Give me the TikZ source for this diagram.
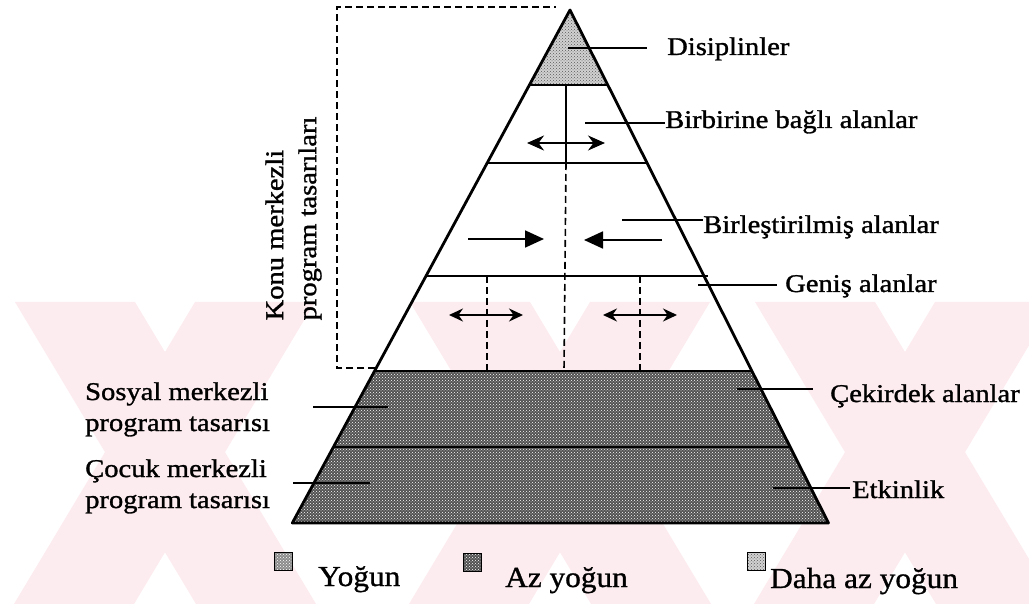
\documentclass[tikz,border=0pt]{standalone}
\usepackage{fontspec}
\setmainfont{Liberation Serif}[FakeStretch=1.12,FakeBold=1.2]
\newfontfamily\legfont{Liberation Serif}[FakeStretch=1.08,FakeBold=1.0]
\usetikzlibrary{arrows.meta,patterns,calc}
\definecolor{wmpink}{RGB}{253,236,239}
\begin{document}
\begin{tikzpicture}[x=1pt,y=-1pt,
  edge/.style={line width=2.8pt, line join=round},
  tier/.style={line width=2pt},
  dashln/.style={line width=1.6pt, dash pattern=on 7pt off 4pt},
  leader/.style={line width=1.6pt},
  lbl/.style={inner sep=0pt, font=\fontsize{25.5}{30}\selectfont},
  leg/.style={inner sep=0pt, font=\legfont\fontsize{29}{34}\selectfont},
  darkfill/.style={preaction={fill=black!68}, pattern=crosshatch dots, pattern color=white},
  midfill/.style={preaction={fill=black!45}, pattern=crosshatch dots, pattern color=white},
  lightfill/.style={preaction={fill=black!18}, pattern=crosshatch dots, pattern color=black!65},
  legsq/.style={draw=black, line width=1pt, minimum size=18pt, inner sep=0pt},
  bigtip/.style={line width=1.8pt, -{Triangle[length=19pt,width=17pt]}},
  dbl/.style={line width=1.8pt, {Stealth[length=17pt,width=15pt]}-{Stealth[length=17pt,width=15pt]}},
  dbls/.style={line width=1.6pt, {Stealth[length=14pt,width=13pt]}-{Stealth[length=14pt,width=13pt]}}
]
\useasboundingbox (0,0) rectangle (1029,604);
\fill[white] (0,0) rectangle (1029,604);
% watermark
\begin{scope}
\clip (0,302) rectangle (1029,604);
\foreach \cx in {165,560,905} {
  \fill[wmpink] (\cx-150,302) -- (\cx-30,302) -- (\cx+151,604) -- (\cx+31,604) -- cycle;
  \fill[wmpink] (\cx+30,302) -- (\cx+150,302) -- (\cx-31,604) -- (\cx-151,604) -- cycle;
}
\end{scope}
% pyramid coordinates
\coordinate (apex) at (570,10);
\coordinate (L1) at (529.4,85);  \coordinate (R1) at (607.8,85);
\coordinate (L2) at (487.2,163); \coordinate (R2) at (647.1,163);
\coordinate (L3) at (426,276);   \coordinate (R3) at (708,276);
\coordinate (L4) at (374.6,371); \coordinate (R4) at (751.9,371);
\coordinate (L5) at (333.4,447); \coordinate (R5) at (790.2,447);
\coordinate (L6) at (292.3,523); \coordinate (R6) at (828.5,523);
% fills
\path[lightfill] (apex) -- (R1) -- (L1) -- cycle;
\path[darkfill] (L4) -- (R4) -- (R6) -- (L6) -- cycle;
% tiers
\draw[tier] (L1) -- (R1);
\draw[tier] (L2) -- (R2);
\draw[tier] (L3) -- (R3);
\draw[tier] (L4) -- (R4);
\draw[tier, line width=2.4pt] (L5) -- (R5);
\draw[edge] (L6) -- (apex) -- (R6) -- cycle;
% verticals
\coordinate (v0) at (566,85); \coordinate (v1) at (566,163); \coordinate (v2) at (564,371);
\coordinate (a0) at (487,276); \coordinate (a1) at (487,371);
\coordinate (b0) at (640,276); \coordinate (b1) at (640,371);
\draw[line width=1.8pt] (v0) -- (v1);
\draw[dashln] (v1) -- (v2);
\draw[dashln] (a0) -- (a1);
\draw[dashln] (b0) -- (b1);
% dashed frame
\coordinate (f0) at (375,368); \coordinate (f1) at (337,368);
\coordinate (f2) at (337,7); \coordinate (f3) at (556,7);
\draw[dashln] (f0) -- (f1) -- (f2) -- (f3);
% arrows
\coordinate (t0) at (527,143); \coordinate (t1) at (605,143);
\draw[dbl] (t0) -- (t1);
\coordinate (m0) at (468,239); \coordinate (m1) at (544,239);
\coordinate (m2) at (662,240); \coordinate (m3) at (584,240);
\draw[bigtip] (m0) -- (m1);
\draw[bigtip] (m2) -- (m3);
\coordinate (d0) at (449,315); \coordinate (d1) at (523,315);
\coordinate (d2) at (603,315); \coordinate (d3) at (677,315);
\draw[dbls] (d0) -- (d1);
\draw[dbls] (d2) -- (d3);
% labels right
\node[lbl, anchor=base west] (disip) at (667,55) {Disiplinler};
\node[lbl, anchor=base west] (birb) at (665,128) {Birbirine bağlı alanlar};
\node[lbl, anchor=base west] (birl) at (703,233) {Birleştirilmiş alanlar};
\node[lbl, anchor=base west] (genis) at (785,292) {Geniş alanlar};
\node[lbl, anchor=base west] (cekir) at (830,402) {Çekirdek alanlar};
\node[lbl, anchor=base west] (etkin) at (852,498) {Etkinlik};
% labels left
\node[lbl, anchor=base west] (sos1) at (85,400) {Sosyal merkezli};
\node[lbl, anchor=base west] (sos2) at (85,431) {program tasarısı};
\node[lbl, anchor=base west] (coc1) at (85,477) {Çocuk merkezli};
\node[lbl, anchor=base west] (coc2) at (85,508) {program tasarısı};
\node[lbl, font=\fontsize{25.5}{33}\selectfont, rotate=90, align=left] (konu) at (293.5,218.5) {Konu merkezli\\program tasarıları};
% leaders
\coordinate (l0) at (568,48);  \coordinate (l0e) at (647,48);
\coordinate (l1) at (585,123); \coordinate (l1e) at (665,123);
\coordinate (l2) at (622,220); \coordinate (l2e) at (703,220);
\coordinate (l3) at (698,285); \coordinate (l3e) at (777,285);
\coordinate (l4) at (737,389); \coordinate (l4e) at (813,389);
\coordinate (l5) at (773,488); \coordinate (l5e) at (850,488);
\coordinate (l6) at (313,407); \coordinate (l6e) at (388,407);
\coordinate (l7) at (293,483); \coordinate (l7e) at (370,483);
\draw[leader] (l0) -- (l0e);
\draw[leader] (l1) -- (l1e);
\draw[leader] (l2) -- (l2e);
\draw[leader] (l3) -- (l3e);
\draw[leader] (l4) -- (l4e);
\draw[leader] (l5) -- (l5e);
\draw[leader] (l6) -- (l6e);
\draw[leader] (l7) -- (l7e);
% legend
\node[legsq, midfill] (sq1) at (283,561) {};
\node[legsq, darkfill] (sq2) at (472,562) {};
\node[legsq, lightfill] (sq3) at (756,561) {};
\node[leg, anchor=base west] (yog) at (318,586) {Yoğun};
\node[leg, anchor=base west] (az) at (505,587) {Az yoğun};
\node[leg, anchor=base west] (daha) at (770,588) {Daha az yoğun};
\end{tikzpicture}
\end{document}
